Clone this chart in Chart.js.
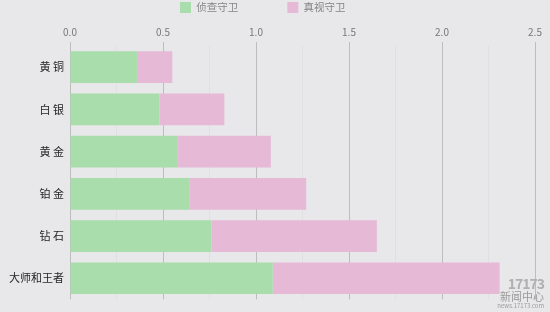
<!DOCTYPE html>
<html>
<head>
    <meta charset="UTF-8">
    <title>守卫数量</title>
    <script src="https://cdn.jsdelivr.net/npm/chart.js"></script>
    <style>
        body {
            margin: 0;
            background-color: #e8e8ea;
            font-family: 'Noto Sans CJK SC', 'Noto Sans', sans-serif;
        }

        .chart-container {
            position: relative;
            width: 550px;
            height: 312px;
        }

        .watermark {
            position: absolute;
            right: 6px;
            bottom: 3px;
            color: #9a9a9a;
            text-align: right;
        }
        .watermark .logo { font-size: 14px; font-weight: bold; line-height: 14px; letter-spacing: -1px; color: #b0b0b0; }
        .watermark .name { font-size: 11px; line-height: 12px; }
        .watermark .site { font-size: 6px; line-height: 7px; }
    </style>
</head>
<body>
    <div class="chart-container">
        <canvas id="wardChart"></canvas>
        <div class="watermark">
            <div class="logo">17173</div>
            <div class="name">新闻中心</div>
            <div class="site">news.17173.com</div>
        </div>
    </div>

    <script>
        // tiers, top to bottom
        var tiers = ['黄 铜', '白 银', '黄 金', '铂 金', '钻 石', '大师和王者'];
        var seriesNames = ['侦查守卫', '真视守卫'];
        // values
        var scoutWards = [0.36, 0.48, 0.58, 0.64, 0.76, 1.09];
        var trueWards = [0.19, 0.35, 0.50, 0.63, 0.89, 1.22];

        Chart.defaults.font.family = "'Noto Sans CJK SC', 'Noto Sans', sans-serif";

        function isMajor(v) {
            return Math.round(v * 4) % 2 === 0;
        }

        // trailing spaces give the legend its wide gap
        function pad(s, n) {
            return s + new Array(n + 1).join(' ');
        }

        var ctx = document.getElementById('wardChart').getContext('2d');
        var wardChart = new Chart(ctx, {
            type: 'bar',
            data: {
                labels: tiers,
                datasets: [{
                    label: pad(seriesNames[0], 20),
                    data: scoutWards,
                    backgroundColor: '#a9ddab'
                }, {
                    label: pad(seriesNames[1], 4),
                    data: trueWards,
                    backgroundColor: '#e6bad7'
                }]
            },
            options: {
                indexAxis: 'y',
                responsive: true,
                maintainAspectRatio: false,
                animation: false,
                categoryPercentage: 1.0,
                barPercentage: 0.75,
                layout: {
                    padding: { left: 0, right: 15, top: 0, bottom: 0 }
                },
                plugins: {
                    legend: {
                        position: 'top',
                        labels: {
                            boxWidth: 11,
                            boxHeight: 11,
                            padding: 2,
                            color: '#858585',
                            font: { size: 10.5 }
                        }
                    },
                    tooltip: { enabled: false }
                },
                scales: {
                    x: {
                        position: 'top',
                        stacked: true,
                        min: 0,
                        max: 2.5,
                        afterFit: function (scale) {
                            scale.height = 23;
                        },
                        border: { display: false },
                        grid: {
                            color: function (c) {
                                return c.tick && !isMajor(c.tick.value) ? 'rgba(0,0,0,0.03)' : '#bdbdbd';
                            },
                            tickColor: function (c) {
                                return c.tick && !isMajor(c.tick.value) ? 'rgba(0,0,0,0)' : '#bdbdbd';
                            },
                            tickLength: 4
                        },
                        ticks: {
                            stepSize: 0.25,
                            autoSkip: false,
                            maxRotation: 0,
                            color: '#777',
                            font: { size: 10 },
                            padding: 4,
                            callback: function (v) {
                                return isMajor(v) ? v.toFixed(1) : '';
                            }
                        }
                    },
                    y: {
                        stacked: true,
                        afterFit: function (scale) {
                            scale.width = 70;
                        },
                        border: { display: false },
                        grid: { display: false, drawTicks: false },
                        ticks: {
                            color: '#262626',
                            font: { size: 11 },
                            padding: 6
                        }
                    }
                }
            }
        });
    </script>
</body>
</html>
